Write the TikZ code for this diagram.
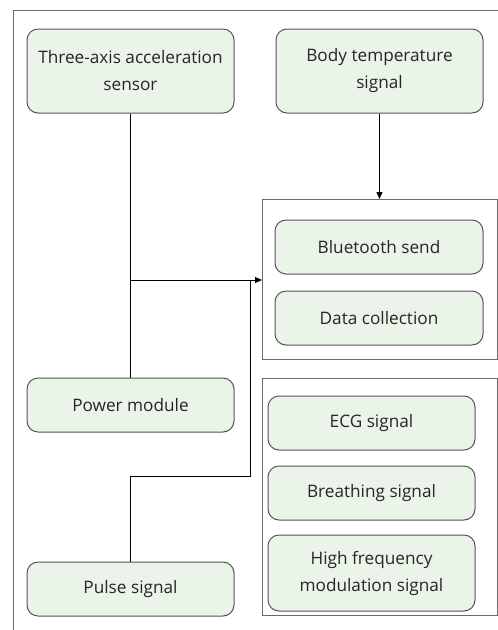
\documentclass[tikz,border=0pt]{standalone}
\usepackage{fontspec}
\setmainfont{Open Sans}
\usetikzlibrary{arrows.meta}
\definecolor{boxfill}{HTML}{EAF4E8}
\definecolor{boxline}{HTML}{555555}
\definecolor{framecol}{HTML}{6A6A6A}
\tikzset{
  blk/.style={draw=boxline, line width=1pt, fill=boxfill, rounded corners=11pt,
    minimum width=207pt, align=center, inner sep=2pt, text=black!85,
    font=\fontsize{17.2}{27}\selectfont},
  grp/.style={draw=framecol, line width=1pt},
  conn/.style={draw=black, line width=0.9pt},
  arr/.style={conn, -{Triangle[length=7pt,width=6pt]}}
}
\begin{document}
\begin{tikzpicture}[x=1pt,y=-1pt]
\useasboundingbox (0,0) rectangle (498,630);
\draw[grp] (13,630) -- (13,10) -- (498,10);
\draw[grp] (262,199) rectangle (497,359);
\draw[grp] (262,378) rectangle (497,615);
\node[blk, minimum height=84pt] (acc) at (130.5,71) {Three-axis acceleration\\sensor};
\node[blk, minimum height=84pt] (temp) at (379.5,71) {Body temperature\\signal};
\node[blk, minimum width=208pt, minimum height=54pt] (bt) at (379,247) {Bluetooth send};
\node[blk, minimum width=208pt, minimum height=54pt] (dc) at (379,318) {Data collection};
\node[blk, minimum height=54pt] (pow) at (130.5,405) {Power module};
\node[blk, minimum height=54pt] (pulse) at (130.5,589) {Pulse signal};
\node[blk, minimum height=54pt] (ecg) at (371.5,423) {ECG signal};
\node[blk, minimum height=54pt] (br) at (371.5,493) {Breathing signal};
\node[blk, minimum height=76pt] (hf) at (371.5,573) {High frequency\\modulation signal};
\coordinate (g1) at (262,280);
\coordinate (g1top) at (379.5,199);
\coordinate (j) at (130.5,280);
\coordinate (k) at (250.5,280);
\draw[conn] (acc.south) -- (pow.north);
\draw[arr] (j) -- (g1);
\draw[conn] (pulse.north) -- (130.5,476) -- (250.5,476) -- (k);
\draw[arr] (temp.south) -- (g1top);
\end{tikzpicture}
\end{document}
